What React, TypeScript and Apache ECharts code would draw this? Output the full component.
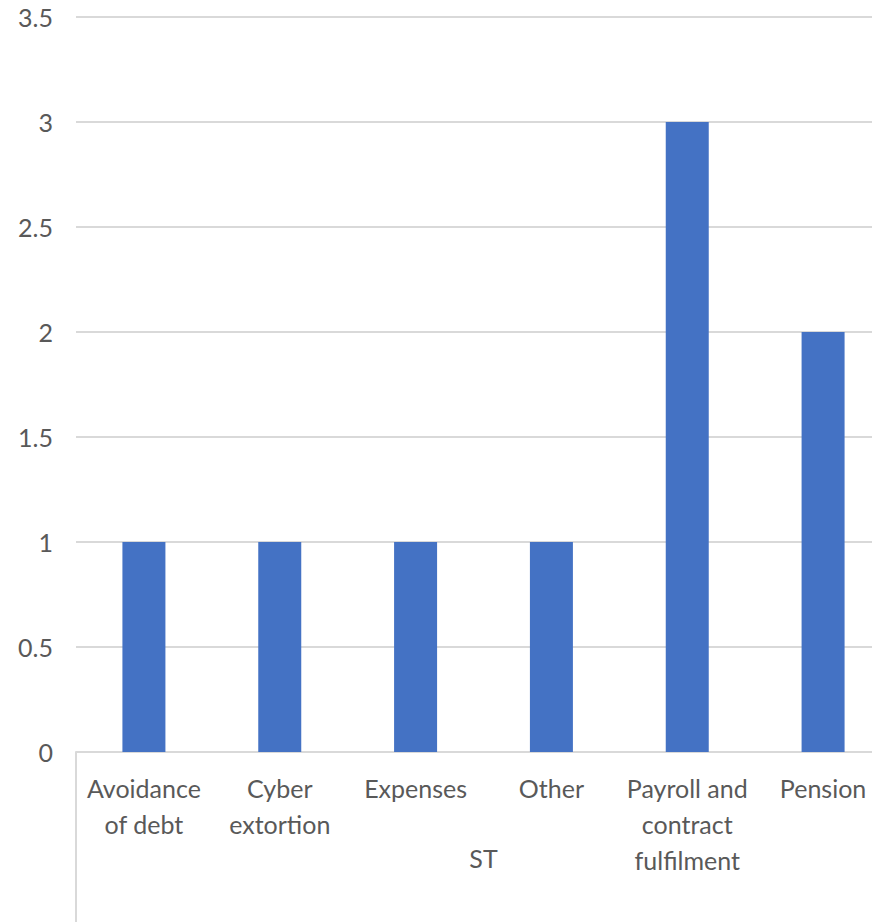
import React, { useEffect, useRef } from "react";
import * as echarts from "echarts";

const categories = [
  "Avoidance of debt",
  "Cyber extortion",
  "Expenses",
  "Other",
  "Payroll and contract fulfilment",
  "Pension",
];
const values = [1, 1, 1, 1, 3, 2];
const groupLabels = ["ST"];
const yTicks = { min: 0, max: 3.5, interval: 0.5 };

const wrapped: Record<string, string> = {
  "Avoidance of debt": "Avoidance\nof debt",
  "Cyber extortion": "Cyber\nextortion",
  "Payroll and contract fulfilment": "Payroll and\ncontract\nfulfilment",
};

const FONT = "Lato, 'Open Sans', sans-serif";
const TEXT = "#595959";
const LINE = "#d9d9d9";
const FS = 25;

export default function App() {
  const ref = useRef<HTMLDivElement>(null);

  useEffect(() => {
    if (!ref.current) return;
    const chart = echarts.init(ref.current, undefined, { renderer: "svg" });
    chart.setOption({
      animation: false,
      backgroundColor: "#ffffff",
      grid: {
        left: 76,
        top: 17,
        right: -19,
        bottom: 170,
        containLabel: false,
        outerBoundsMode: "none",
      },
      xAxis: [
        {
          type: "category",
          data: categories,
          position: "bottom",
          axisLine: { show: true, lineStyle: { color: LINE, width: 2 } },
          axisTick: { show: false },
          axisLabel: {
            color: TEXT,
            fontFamily: FONT,
            fontSize: FS,
            lineHeight: 36,
            margin: 18,
            interval: 0,
            formatter: (v: string) => wrapped[v] ?? v,
          },
        },
        {
          type: "category",
          data: groupLabels,
          position: "bottom",
          axisLine: { show: false },
          axisTick: {
            show: true,
            length: 172,
            lineStyle: { color: LINE, width: 2 },
          },
          axisLabel: {
            color: TEXT,
            fontFamily: FONT,
            fontSize: FS,
            margin: 93,
          },
          splitLine: { show: false },
        },
      ],
      yAxis: {
        type: "value",
        min: yTicks.min,
        max: yTicks.max,
        interval: yTicks.interval,
        axisLine: { show: false },
        axisTick: { show: false },
        axisLabel: {
          color: TEXT,
          fontFamily: FONT,
          fontSize: FS,
          margin: 23,
        },
        splitLine: { lineStyle: { color: LINE, width: 2 } },
      },
      series: [
        {
          type: "bar",
          data: values,
          xAxisIndex: 0,
          barWidth: 43,
          itemStyle: { color: "#4472C4" },
        },
      ],
    });
    return () => chart.dispose();
  }, []);

  return (
    <div
      ref={ref}
      style={{ position: "fixed", left: 0, top: 0, width: 872, height: 922 }}
    />
  );
}
